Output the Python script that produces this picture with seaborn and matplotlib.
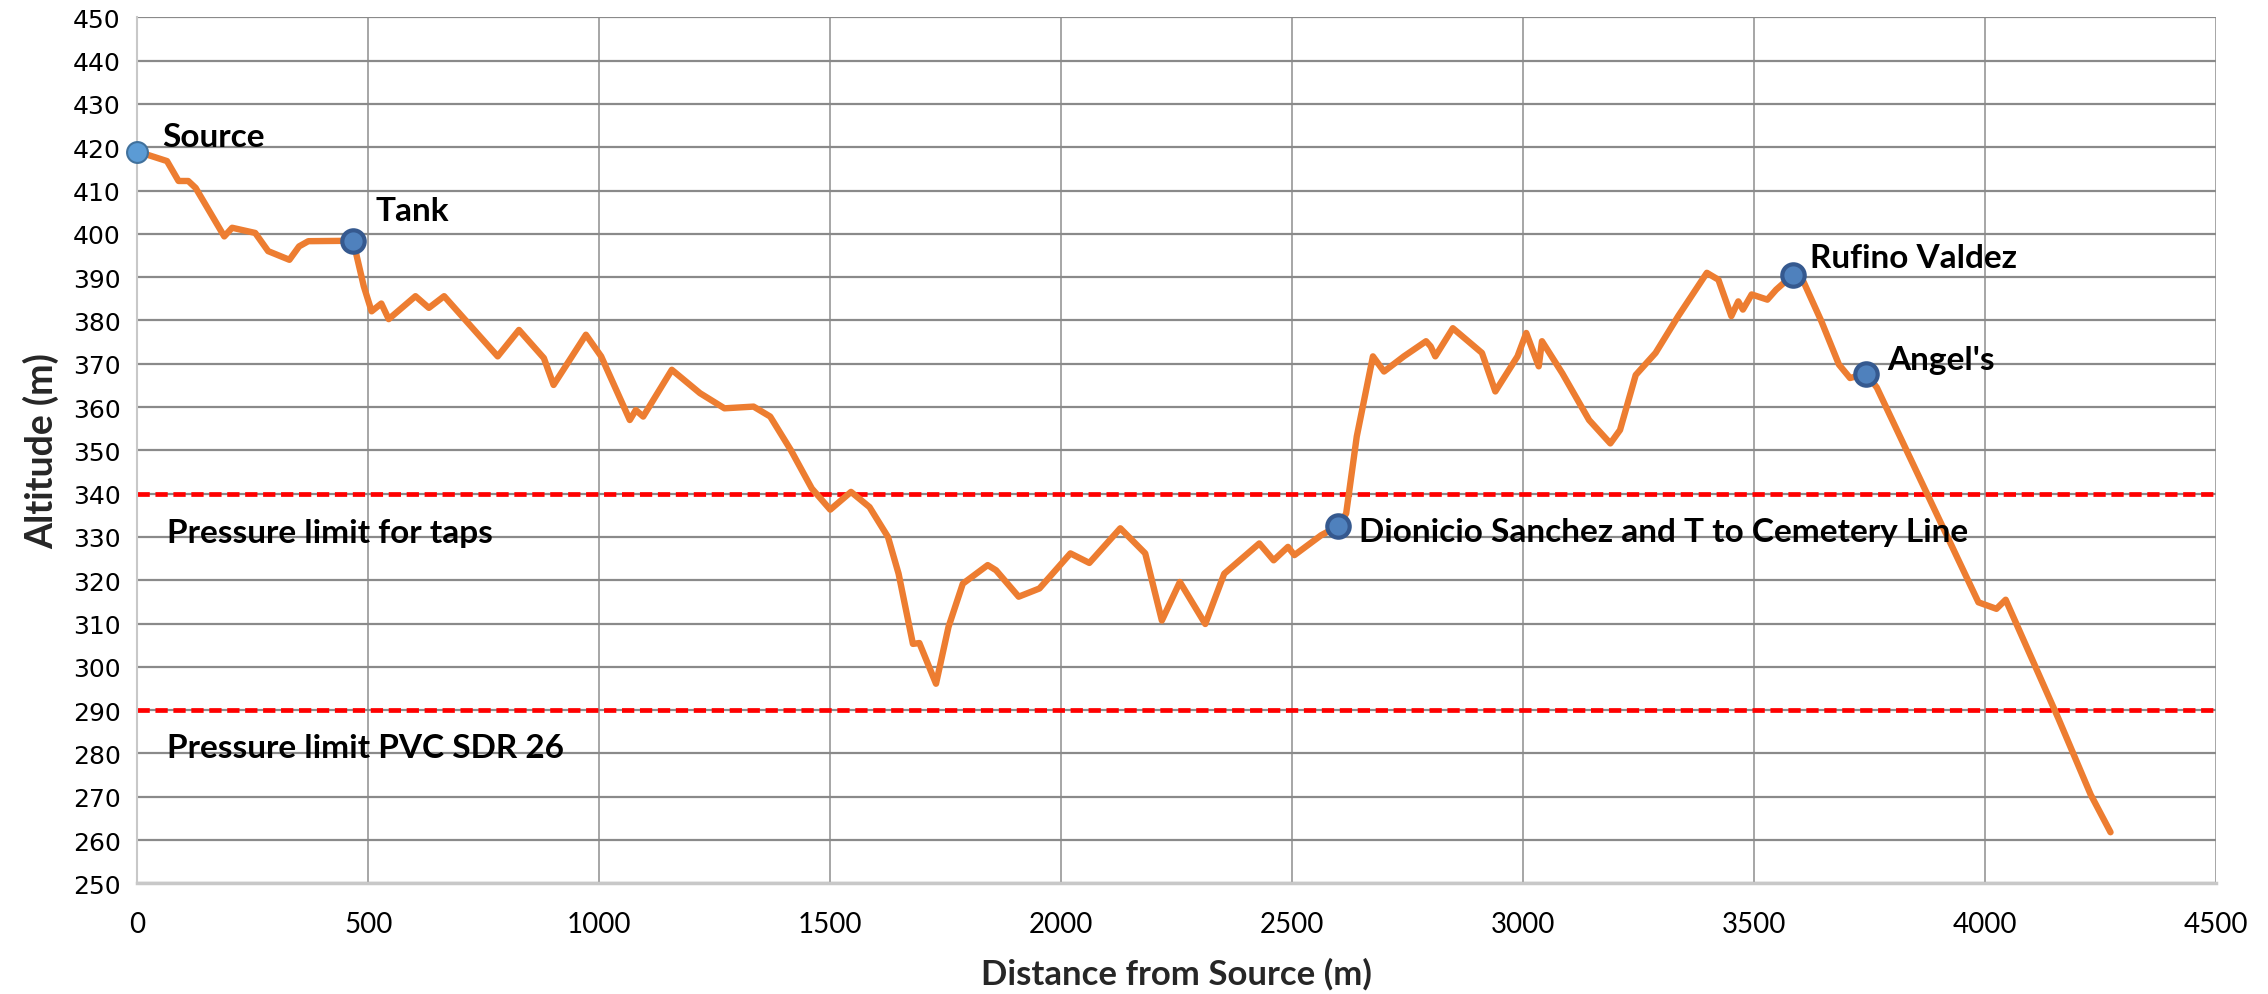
import matplotlib
matplotlib.use("Agg")
import matplotlib.pyplot as plt
import seaborn as sns
import pandas as pd

# ---- data ----
dist = [0, 64, 89, 110, 126, 188, 205, 255, 283, 329, 350, 370, 467, 490, 507, 528, 544,
        602, 631, 664, 780, 826, 880, 901, 971, 1004, 1066, 1079, 1095, 1157, 1218, 1271,
        1334, 1370, 1415, 1460, 1500, 1545, 1585, 1625, 1648, 1679, 1693, 1729, 1756, 1787,
        1841, 1859, 1908, 1953, 2020, 2061, 2128, 2182, 2218, 2257, 2312, 2353, 2429, 2460,
        2491, 2505, 2563, 2600, 2617, 2640, 2675, 2699, 2742, 2790, 2800, 2810, 2848, 2911,
        2940, 2988, 3007, 3034, 3041, 3085, 3143, 3189, 3210, 3244, 3287, 3336, 3398, 3423,
        3451, 3466, 3476, 3495, 3529, 3548, 3585, 3607, 3646, 3684, 3708, 3743, 3766, 3876,
        3986, 4025, 4045, 4159, 4229, 4272]
alt = [419, 416.8, 412.2, 412.2, 410.6, 399.4, 401.4, 400.2, 396, 394, 397.1, 398.3, 398.4,
       387.9, 382.1, 383.9, 380.3, 385.6, 382.9, 385.6, 371.7, 377.8, 371.3, 365.1, 376.7,
       371.7, 357, 359.3, 357.8, 368.6, 363.2, 359.7, 360.1, 357.8, 350, 341.2, 336.3, 340.4,
       336.9, 330, 321.5, 305.3, 305.5, 296.1, 309.2, 319.2, 323.5, 322.3, 316.2, 318.1,
       326.2, 324, 332, 326.2, 310.7, 319.6, 309.9, 321.5, 328.5, 324.6, 327.7, 325.8, 330.4,
       332.5, 335.4, 353.2, 371.7, 368.2, 371.7, 375.2, 374, 371.7, 378.2, 372.5, 363.6,
       371.7, 377.1, 369.4, 375.2, 367.8, 357, 351.6, 354.7, 367.4, 372.5, 381, 391, 389.4,
       381, 384.4, 382.5, 386, 384.8, 387.1, 390.6, 389, 379.8, 369.8, 366.7, 367.7, 364.5,
       339.7, 314.9, 313.4, 315.5, 288.1, 270.5, 261.8]

source_pt = (0, 419)
point_names = ["Tank", "Dionicio Sanchez and T to Cemetery Line", "Rufino Valdez", "Angel's"]
point_dist = [467, 2600, 3585, 3743]
point_alt = [398.4, 332.5, 390.6, 367.7]

limit_names = ["Pressure limit for taps", "Pressure limit PVC SDR 26"]
limit_alt = [340, 290]

x_ticks = [0, 500, 1000, 1500, 2000, 2500, 3000, 3500, 4000, 4500]
y_ticks = list(range(250, 451, 10))

# ---- style ----
sns.set_theme(style="white")
plt.rcParams['font.family'] = ['Lato', 'DejaVu Sans']

fig = plt.figure(figsize=(22.68, 9.95), dpi=100)
ax = fig.add_axes([0.0606, 0.1112, 0.9164, 0.8704])

# pressure limit lines
for yv in limit_alt:
    ax.axhline(yv, color='#ff0000', linewidth=3.4, dashes=(2.6, 1.2), zorder=2)

# profile
df = pd.DataFrame({"dist": dist, "alt": alt})
sns.lineplot(data=df, x="dist", y="alt", sort=False, color='#ed7d31', linewidth=4.6,
             ax=ax, zorder=3)
for ln in ax.lines[-1:]:
    ln.set_solid_joinstyle('round')
    ln.set_solid_capstyle('round')

# markers
ax.plot([source_pt[0]], [source_pt[1]], 'o', markersize=15, markerfacecolor='#5b9bd5',
        markeredgecolor='#41719c', markeredgewidth=1.5, zorder=5, clip_on=False)
pts = pd.DataFrame({"dist": point_dist, "alt": point_alt})
sns.scatterplot(data=pts, x="dist", y="alt", s=260, color='#4f81bd', edgecolor='#35598f',
                linewidth=3.0, ax=ax, zorder=5)

# axes
ax.set_xlim(0, 4500)
ax.set_ylim(250, 450)
ax.set_xticks(x_ticks, labels=[str(v) for v in x_ticks], fontsize=20)
ax.set_yticks(y_ticks, labels=[str(v) for v in y_ticks], fontsize=18,
              fontfamily=['DejaVu Sans'])
ax.grid(True, axis='y', color='#8a8a8a', linewidth=1.6, zorder=0)
ax.grid(True, axis='x', color='#a6a6a6', linewidth=1.4, zorder=0)
ax.set_axisbelow(True)
for s in ['top', 'right']:
    ax.spines[s].set_visible(False)
ax.spines['left'].set_color('#c8c8c8')
ax.spines['left'].set_linewidth(1.5)
ax.spines['bottom'].set_color('#c8c8c8')
ax.spines['bottom'].set_linewidth(2.5)
ax.tick_params(axis='both', length=0, colors='black')
ax.tick_params(axis='x', pad=20)
ax.tick_params(axis='y', pad=12)

# labels
lab_kw = dict(fontsize=24, fontweight='bold', color='black', va='center', ha='left', zorder=6)
ax.text(53, 422.5, "Source", **lab_kw)
ax.text(516, 405.5, point_names[0], **lab_kw)
ax.text(2645, 331.2, point_names[1], **lab_kw)
ax.text(3621, 394.5, point_names[2], **lab_kw)
ax.text(3788, 371, point_names[3], **lab_kw)
ax.text(63, 331, limit_names[0], **lab_kw)
ax.text(63, 281.4, limit_names[1], **lab_kw)

ax.set_xlabel("Distance from Source (m)", fontsize=25, fontweight='bold', labelpad=14)
ax.set_ylabel("Altitude (m)", fontsize=27, fontweight='bold', labelpad=10)

fig.savefig("out.png", dpi=100)
